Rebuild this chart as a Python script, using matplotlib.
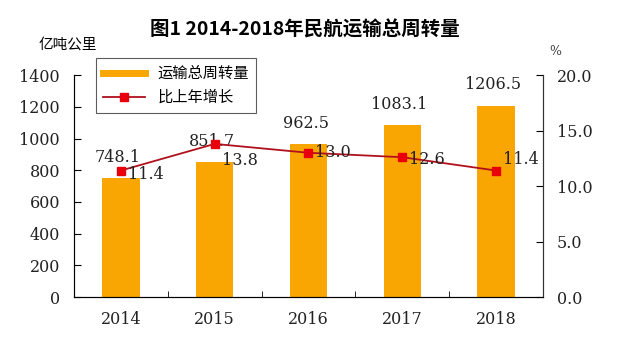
import matplotlib

matplotlib.use("Agg")
import matplotlib.pyplot as plt
from matplotlib.lines import Line2D

plt.rcParams["font.family"] = ["DejaVu Serif", "Noto Sans CJK SC"]

# --------------------------------------------------------------------- DATA

YEARS = ["2014", "2015", "2016", "2017", "2018"]
TURNOVER = [748.1, 851.7, 962.5, 1083.1, 1206.5]  # 亿吨公里
GROWTH = [11.4, 13.8, 13.0, 12.6, 11.4]  # %

TITLE = "图1 2014-2018年民航运输总周转量"
BAR_LABEL = "运输总周转量"
LINE_LABEL = "比上年增长"

BAR_COLOR = "#F9A602"
LINE_COLOR = "#B0101C"
MARK_COLOR = "#E8000B"
CJK = ["Noto Sans CJK SC", "DejaVu Sans"]

# ------------------------------------------------------------------------

fig = plt.figure(figsize=(6.4, 3.56), dpi=100)
ax = fig.add_axes([0.1156, 0.1657, 0.7328, 0.6233])
x = range(len(YEARS))

ax.bar(x, TURNOVER, width=0.4, color=BAR_COLOR, zorder=2)
ax.set_xlim(-0.5, len(YEARS) - 0.5)
ax.set_ylim(0, 1400)
ax.set_yticks(range(0, 1401, 200))
ax.set_xticks(list(x), YEARS)
ax.set_xticks([i + 0.5 for i in range(len(YEARS) - 1)], minor=True)
ax.tick_params(axis="x", which="major", length=0, pad=10, labelsize=11.5, labelcolor="#222222")
ax.tick_params(axis="x", which="minor", direction="in", length=4)
ax.tick_params(axis="y", direction="in", length=5, pad=10, labelsize=11.5, labelcolor="#222222")
ax.spines["top"].set_visible(False)
for s in ("left", "bottom", "right"):
    ax.spines[s].set_color("#333333")

for xi, v in zip(x, TURNOVER):
    ax.annotate(f"{v:.1f}", (xi, v), xytext=(-2, 9), textcoords="offset points",
                ha="center", va="bottom", fontsize=11.5, color="#222222", zorder=5)

ax2 = ax.twinx()
ax2.plot(x, GROWTH, color=LINE_COLOR, lw=1.3, marker="s", ms=6,
         mfc=MARK_COLOR, mec=MARK_COLOR, zorder=4)
ax2.set_ylim(0, 20)
ax2.set_yticks(range(0, 21, 5), [f"{t:.1f}" for t in range(0, 21, 5)])
ax2.tick_params(axis="y", direction="in", length=5, pad=10, labelsize=11.5, labelcolor="#222222")
ax2.spines["top"].set_visible(False)
ax2.spines["right"].set_color("#333333")

# growth labels sit to the right of each marker
offsets = [(5, -3), (5, -12), (5, 0), (5, -2), (5, 8)]
for xi, v, off in zip(x, GROWTH, offsets):
    ax2.annotate(f"{v:.1f}", (xi, v), xytext=off, textcoords="offset points",
                 ha="left", va="center", fontsize=11.5, color="#222222", zorder=5)

handles = [
    Line2D([], [], color=BAR_COLOR, lw=5),
    Line2D([], [], color=LINE_COLOR, lw=1.3, marker="s", ms=6, mfc=MARK_COLOR, mec=MARK_COLOR),
]
leg = ax2.legend(handles, [BAR_LABEL, LINE_LABEL], loc="upper left",
                 bbox_to_anchor=(0.03, 1.11), frameon=True, fancybox=False,
                 edgecolor="#333333", prop={"family": CJK, "size": 11},
                 handlelength=2.8, borderpad=0.45, labelspacing=0.45)
leg.get_frame().set_linewidth(0.8)

fig.text(0.477, 0.915, TITLE, ha="center", va="center", fontsize=14,
         fontweight="bold", family=CJK)
fig.text(0.06, 0.875, "亿吨公里", ha="left", va="center", fontsize=10.5, family=CJK)
fig.text(0.858, 0.855, "%", ha="left", va="center", fontsize=9, color="#444444")

fig.savefig("out.png", dpi=100)
